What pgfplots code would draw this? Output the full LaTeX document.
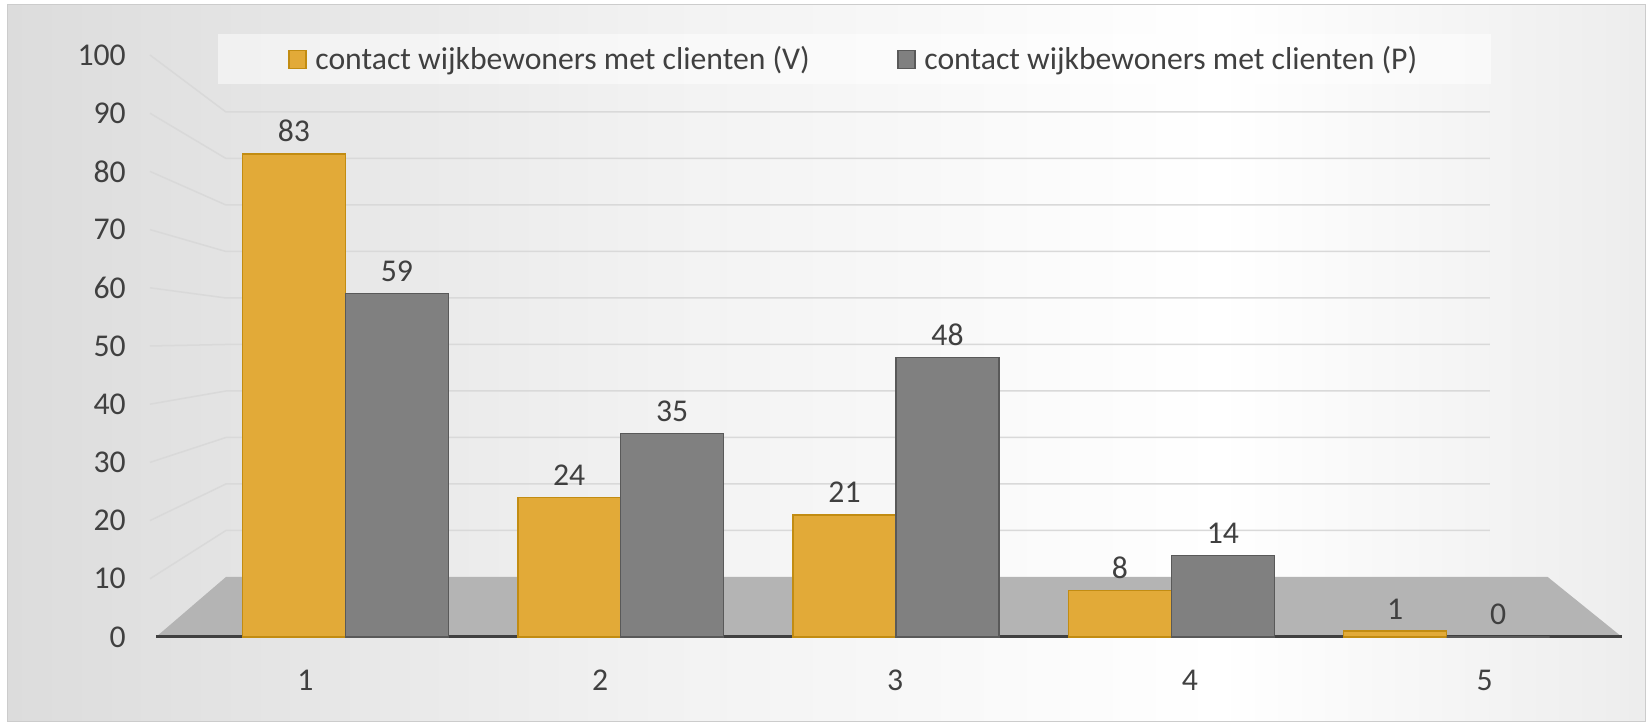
\documentclass[border=0pt]{standalone}
\usepackage{pgfplots}
\pgfplotsset{compat=1.18}
\usepackage{fontspec}
\setmainfont{Carlito}
\definecolor{txt}{HTML}{404040}
\definecolor{orangeF}{HTML}{E2AA38}
\definecolor{orangeE}{HTML}{C28C12}
\definecolor{greyF}{HTML}{808080}
\definecolor{greyE}{HTML}{595959}
\definecolor{floorc}{HTML}{B4B4B4}
\definecolor{gridc}{HTML}{D9D9D9}
\definecolor{axc}{HTML}{404040}
\definecolor{bgA}{HTML}{C8C8C8}
\definecolor{bgB}{HTML}{DCDCDC}
\definecolor{bgC}{HTML}{F2F2F2}
\definecolor{bgD}{HTML}{E3E3E3}
\definecolor{bgE}{HTML}{C2C2C2}
\pgfdeclarehorizontalshading{bgshade}{100bp}{color(0bp)=(bgA); color(25bp)=(bgB); color(45bp)=(bgC); color(62bp)=(white); color(82bp)=(bgD); color(100bp)=(bgE)}
\newcommand{\fs}{\fontsize{31.7bp}{38bp}\selectfont}
\pgfkeys{/pgf/number format/assume math mode=true}
\begin{document}
\begin{tikzpicture}[x=1bp,y=1bp]
\fill[white] (0,0) rectangle (1651,728);
\useasboundingbox (0,0) rectangle (1651,728);
\shade[shading=bgshade] (7,6) rectangle (1645,723);
\draw[gray!40, line width=1bp] (7,6) rectangle (1645,723);
\begin{axis}[
  at={(156bp,91bp)}, anchor=south west,
  scale only axis, width=1466bp, height=582bp,
  xmin=0.312, xmax=5.637, ymin=0, ymax=100,
  clip=false,
  axis line style={draw=none},
  major tick length=0pt,
  xtick={1,2,3,4,5}, ytick={0,10,...,100},
  tick label style={font=\fs, text=txt},
  xticklabel style={inner sep=0pt, anchor=north, yshift=-33bp, xshift={-40bp+19.5bp*\ticknum}},
  yticklabel style={inner sep=0pt, anchor=east, xshift=-30bp},
  /pgf/number format/assume math mode=true,
  legend columns=2,
  legend image code/.code={\draw[#1, line width=1.5bp, fill opacity=1, draw opacity=1] (0bp,-9.5bp) rectangle (17bp,8.5bp);},
  legend style={at={(axis description cs:0.4765,0.993)}, anchor=center,
    draw=none, fill=white, fill opacity=0.5, text opacity=1,
    inner xsep=70bp, inner ysep=9bp, font=\fs, text=txt,
    nodes={inner sep=3.5bp},
    /tikz/every odd column/.append style={column sep=5bp},
    /tikz/every even column/.append style={column sep=84bp}},
  legend cell align=left,
]
\fill[floorc] (axis cs:0.312,0) -- (axis cs:5.637,0) -- (axis cs:5.367,10.31) -- (axis cs:0.566,10.31) -- cycle;
\pgfplotsinvokeforeach{10,20,...,100}{
  \draw[gridc, line width=1.5bp] (axis cs:0.29,#1) -- (axis cs:0.566,{10.31+0.799*#1}) -- (axis cs:5.157,{10.31+0.799*#1});
}
\draw[axc, line width=3bp] (axis cs:0.312,0) -- (axis cs:5.637,0);
\addplot[ybar, bar width=0.374, bar shift=-0.187, fill=orangeF, draw=orangeE, line width=1.5bp,
  nodes near coords, nodes near coords style={font=\fs, text=txt, anchor=south, yshift=8bp, xshift=-51.5bp}]
  coordinates {(1,83) (2,24) (3,21) (4,8) (5,1)};
\addlegendentry{contact wijkbewoners met clienten (V)}
\addplot[ybar, bar width=0.374, bar shift=0.187, fill=greyF, draw=greyE, line width=1.5bp,
  nodes near coords, nodes near coords style={font=\fs, text=txt, anchor=south, yshift=8bp, xshift=51.5bp}]
  coordinates {(1,59) (2,35) (3,48) (4,14) (5,0)};
\addlegendentry{contact wijkbewoners met clienten (P)}
\end{axis}
\end{tikzpicture}
\end{document}
